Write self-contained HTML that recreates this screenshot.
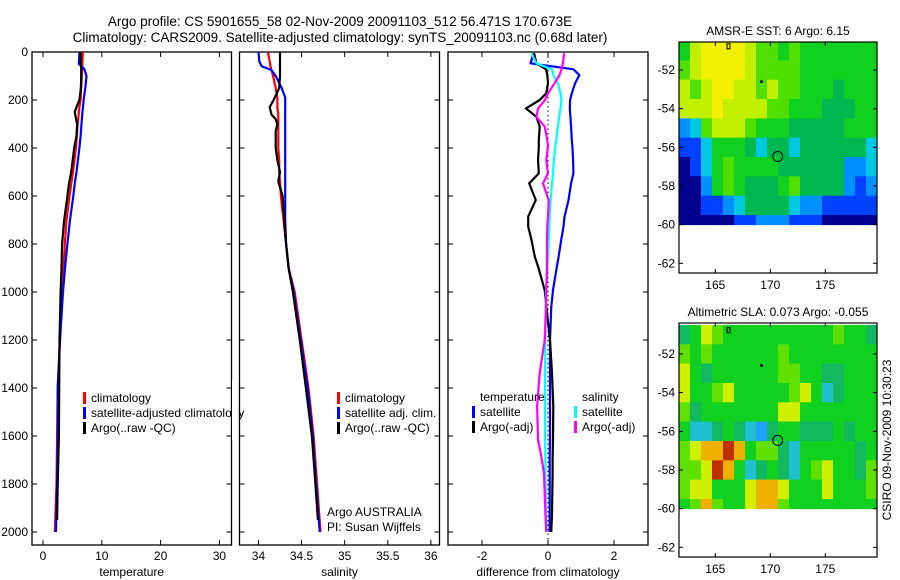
<!DOCTYPE html>
<html><head><meta charset="utf-8">
<style>
html,body{margin:0;padding:0;background:#fff;}
svg{display:block;font-family:"Liberation Sans",sans-serif;}
text{fill:#000;}
</style></head>
<body>
<svg id="fig" width="900" height="580" viewBox="0 0 900 580" xmlns="http://www.w3.org/2000/svg">
<rect width="900" height="580" fill="#fff"/>
<text x="340" y="26" font-size="13.5" text-anchor="middle">Argo profile: CS 5901655_58 02-Nov-2009 20091103_512 56.471S 170.673E</text>
<text x="340" y="42" font-size="13.5" text-anchor="middle">Climatology: CARS2009. Satellite-adjusted climatology: synTS_20091103.nc (0.68d later)</text>
<g id="plots"></g>
<text transform="translate(891,440) rotate(-90)" font-size="12" text-anchor="middle">CSIRO 09-Nov-2009 10:30:23</text>
</svg>
<script>
// ---------- data ----------
const tDepth = [0,50,70,100,150,200,230,250,300,350,400,500,550,600,700,800,900,1000,1200,1400,1600,1800,2000];
const tClim  = [6.77,6.7,6.65,6.6,6.5,6.4,6.2,6.1,5.9,5.75,5.6,5.1,4.8,4.5,4.0,3.7,3.5,3.2,2.9,2.5,2.4,2.3,2.0];
const tSat   = [6.2,6.1,7.0,7.4,7.2,6.9,6.8,6.7,6.55,6.4,6.2,5.7,5.4,5.15,4.6,4.15,3.75,3.4,2.9,2.5,2.5,2.4,2.2];
const tArgo  = [6.4,6.45,6.5,6.5,6.45,6.2,5.7,5.4,5.8,5.7,5.3,4.8,4.4,4.15,3.6,3.25,3.15,3.0,2.8,2.75,2.7,2.5,2.4];
const sDepth = [0,40,60,75,100,150,190,230,260,280,300,330,400,450,500,540,600,700,800,900,1000,1200,1400,1600,1800,2000];
const sClim  = [34.11,34.13,34.14,34.15,34.17,34.2,34.22,34.22,34.23,34.23,34.23,34.23,34.23,34.24,34.24,34.25,34.26,34.29,34.32,34.35,34.42,34.5,34.58,34.64,34.68,34.72];
const sSat   = [34.0,34.01,34.04,34.15,34.2,34.27,34.31,34.31,34.31,34.31,34.31,34.31,34.31,34.31,34.31,34.31,34.31,34.31,34.32,34.35,34.41,34.49,34.57,34.63,34.67,34.71];
const sArgo  = [34.25,34.25,34.25,34.25,34.25,34.24,34.19,34.13,34.15,34.2,34.22,34.2,34.2,34.22,34.25,34.23,34.28,34.3,34.32,34.35,34.4,34.48,34.55,34.62,34.66,34.69];
const dDepth = [5,47,72,96,130,172,200,235,270,311,367,394,450,506,547,617,686,728,783,853,894,992,1061,1200,1339,1478,1617,1686,1756,1922,2000];
const dTsat  = [-0.44,-0.53,0.77,0.95,0.82,0.72,0.67,0.66,0.68,0.7,0.72,0.74,0.76,0.77,0.7,0.62,0.5,0.47,0.4,0.32,0.27,0.15,0.1,0.06,0.06,0.06,0.06,0.05,0.05,0.05,0.05];
const dTargo = [-0.42,-0.35,-0.06,-0.02,0.0,-0.05,-0.25,-0.67,-0.35,-0.25,-0.28,-0.28,-0.3,-0.28,-0.57,-0.37,-0.6,-0.6,-0.5,-0.4,-0.3,-0.1,-0.05,0.06,0.12,0.16,0.15,0.14,0.14,0.12,0.1];
const dSsat  = [-0.5,-0.35,0.12,0.16,0.3,0.38,0.41,0.38,0.34,0.3,0.25,0.22,0.18,0.15,0.12,0.08,0.05,0.04,0.02,0.0,-0.02,-0.06,-0.07,-0.08,-0.09,-0.09,-0.09,-0.08,-0.08,-0.06,-0.04];
const dSargo = [0.49,0.45,0.41,0.35,0.2,0.0,-0.09,-0.3,-0.35,-0.1,-0.02,0.0,-0.05,0.0,-0.15,0.02,0.0,-0.02,-0.03,-0.03,-0.03,-0.05,-0.06,-0.1,-0.25,-0.33,-0.3,-0.2,-0.12,-0.08,-0.05];
const tTicks = [0,10,20,30];
const sTicks = [34,34.5,35,35.5,36];
const dTicks = [-2,0,2];
const yTicks = [0,200,400,600,800,1000,1200,1400,1600,1800,2000];
const latTicks = [-52,-54,-56,-58,-60,-62];
const lonTicks = [165,170,175];
// map grids: rows lat -50.5..-60 (1 deg), cols lon 161.7..179.7 (1 deg); colour index 0..9
const sstGrid = [
[5,7,8,8,8,8,7,6,6,5,6,5,5,5,5,5,5,5],
[6,7,8,8,8,8,7,6,6,6,6,5,5,5,5,5,5,5],
[7,6,7,8,8,7,7,6,7,6,6,5,5,5,4,5,5,5],
[7,7,7,8,7,7,7,7,6,6,5,5,5,4,4,4,5,5],
[2,3,6,7,7,7,6,5,5,5,4,4,4,4,4,5,5,5],
[1,1,3,5,5,5,4,3,4,4,3,4,4,4,4,4,4,3],
[0,1,3,5,6,5,5,5,5,4,4,4,4,4,4,2,2,3],
[0,0,2,5,6,5,4,4,4,5,6,4,4,4,4,2,1,2],
[0,0,1,1,2,3,4,4,4,4,3,2,2,1,1,1,1,1],
[0,0,0,0,0,1,1,2,2,2,1,1,1,0,0,0,0,0]];
const slaGrid = [
[4,5,7,6,5,5,5,5,5,5,5,5,5,5,6,5,5,4],
[6,5,6,5,5,5,5,5,5,6,5,5,5,5,5,5,5,5],
[7,5,4,5,5,5,5,5,5,6,6,5,5,4,4,5,5,5],
[7,5,5,6,7,5,5,5,5,5,6,7,5,3,4,5,5,5],
[6,4,5,5,5,5,5,5,5,7,7,5,5,5,5,5,5,5],
[5,3,3,4,5,4,3,2,4,5,5,4,4,4,5,4,5,5],
[6,7,8,8,9,8,5,6,6,4,3,5,5,5,5,5,4,5],
[6,6,7,9,8,5,3,4,5,4,3,5,6,7,5,5,4,6],
[6,7,7,5,5,5,7,8,8,7,5,5,5,7,5,5,5,6],
[5,6,8,6,5,5,7,8,8,6,5,5,5,5,5,5,5,5]];
const palette = ['#00008f','#0040ff','#0090ff','#00c8e0','#00c070','#10d020','#50e000','#c0f000','#f0e000','#e09000'];
const sstPalette = ['#00008f','#0040ff','#0090ff','#00c8e0','#00b850','#10d020','#50e000','#c0f000','#f0f000','#f0d000'];
const slaPalette = ['#00008f','#0040ff','#20a0ff','#20c0d0','#10b860','#10d020','#60e000','#d0f000','#f0b000','#c03000'];

// ---------- drawing ----------
const NS='http://www.w3.org/2000/svg';
const root=document.getElementById('plots');
function mk(tag,attrs,parent){const e=document.createElementNS(NS,tag);for(const k in attrs)e.setAttribute(k,attrs[k]);(parent||root).appendChild(e);return e;}
const Y0=52, YB=545, KY=0.24;
function yD(d){return Y0+d*KY;}

function panel(name,x0,x1,xmin,xmax,ticks,xlabel,showY){
  const sx=v=>x0+(v-xmin)/(xmax-xmin)*(x1-x0);
  const g=mk('g',{});
  
  
  const fr=mk('rect',{x:x0,y:Y0,width:x1-x0,height:YB-Y0,fill:'none',stroke:'#000','stroke-width':1.3},g);
  
  
  ticks.forEach(t=>{
    const x=sx(t);
    mk('line',{x1:x,x2:x,y1:YB,y2:YB-5,stroke:'#000'},g);
    mk('line',{x1:x,x2:x,y1:Y0,y2:Y0+5,stroke:'#000'},g);
    const tx=mk('text',{x:x,y:YB+15,'font-size':12,'text-anchor':'middle'},g);
    tx.textContent=String(t);
    
    
  });
  yTicks.forEach(t=>{
    const y=yD(t);
    mk('line',{x1:x0,x2:x0+5,y1:y,y2:y,stroke:'#000'},g);
    mk('line',{x1:x1,x2:x1-5,y1:y,y2:y,stroke:'#000'},g);
    if(showY){
      const tx=mk('text',{x:x0-4,y:y+4,'font-size':12,'text-anchor':'end'},g);
      tx.textContent=String(t);
      
      
    }
  });
  const xl=mk('text',{x:(x0+x1)/2,y:YB+31,'font-size':12,'text-anchor':'middle'},g);
  xl.textContent=xlabel;
  
  
  return {sx,g};
}
function line(p,depths,vals,color,name){
  let d='';
  vals.forEach((v,i)=>{d+=(i?'L':'M')+p.sx(v).toFixed(1)+','+yD(depths[i]).toFixed(1);});
  const el=mk('path',{d:d,fill:'none',stroke:color,'stroke-width':2.2,'stroke-linejoin':'round'},p.g);
  
  
}
function legend(p,x,y,items){
  items.forEach((it,i)=>{
    const yy=y+i*15;
    if(it[0]) mk('rect',{x:x,y:yy-10,width:3,height:12,fill:it[0]},p.g);
    const t=mk('text',{x:x+8,y:yy,'font-size':12},p.g);
    t.textContent=it[1];
    
    
  });
}

const p1=panel('temperature-panel',32,231.5,-1.87,32.06,tTicks,'temperature',true);
line(p1,tDepth,tClim,'#ff0000','temp-climatology-line');
line(p1,tDepth,tSat,'#0000ff','temp-satellite-line');
line(p1,tDepth.slice(0,-1).concat([1950]),tArgo,'#000000','temp-argo-line');
legend(p1,83,402,[['#ff0000','climatology'],['#0000ff','satellite-adjusted climatology'],['#000','Argo(..raw -QC)']]);
mk('rect',{x:232,y:380,width:6,height:60,fill:'#fff'});

const p2=panel('salinity-panel',239.5,439.5,33.78,36.1,sTicks,'salinity',false);
line(p2,sDepth,sClim,'#ff0000','sal-climatology-line');
line(p2,sDepth,sSat,'#0000ff','sal-satellite-line');
line(p2,sDepth.slice(0,-1).concat([1950]),sArgo,'#000000','sal-argo-line');
legend(p2,337,402,[['#ff0000','climatology'],['#0000ff','satellite adj. clim.'],['#000','Argo(..raw -QC)']]);
{const a=mk('text',{x:327,y:516,'font-size':12},p2.g);a.textContent='Argo AUSTRALIA';


const b=mk('text',{x:327,y:531,'font-size':12},p2.g);b.textContent='PI: Susan Wijffels';

}

const p3=panel('difference-panel',448,648,-3.03,3.03,dTicks,'difference from climatology',false);
{const z=p3.sx(0);const zl=mk('line',{x1:z,x2:z,y1:Y0,y2:YB,stroke:'#000','stroke-dasharray':'1.5,3'},p3.g);

}
line(p3,dDepth,dTsat,'#0000ff','diff-temp-satellite-line');
line(p3,dDepth,dTargo,'#000000','diff-temp-argo-line');
line(p3,dDepth,dSsat,'#00ffff','diff-sal-satellite-line');
line(p3,dDepth,dSargo,'#ff00ff','diff-sal-argo-line');
legend(p3,472,401,[[null,'temperature'],['#0000ff','satellite'],['#000','Argo(-adj)']]);
legend(p3,574,401,[[null,'salinity'],['#00ffff','satellite'],['#ff00ff','Argo(-adj)']]);

function map(name,top,bot,latTop,latBot,grid,pal,title){
  const L=679,R=877,lon0=161.7,lon1=179.7;
  const sx=v=>L+(v-lon0)/(lon1-lon0)*(R-L);
  const sy=v=>top+(latTop-v)/(latTop-latBot)*(bot-top);
  const g=mk('g',{});
  
  
  grid.forEach((row,r)=>{
    const la0=-50.5-r, la1=Math.max(-51.5-r,-60);
    row.forEach((v,c)=>{
      const x=sx(lon0+c), x2=sx(lon0+c+1);
      const ya=Math.max(sy(la0),top), yb=sy(la1);
      const cell=mk('rect',{x:x.toFixed(1),y:ya.toFixed(1),width:(x2-x+0.4).toFixed(1),height:(yb-ya+0.4).toFixed(1),fill:pal[v]},g);
      
      
    });
  });
  const fr=mk('rect',{x:L,y:top,width:R-L,height:bot-top,fill:'none',stroke:'#000','stroke-width':1.2},g);
  
  
  latTicks.forEach(t=>{const y=sy(t);
    mk('line',{x1:L,x2:L+4,y1:y,y2:y,stroke:'#000'},g);
    mk('line',{x1:R,x2:R-4,y1:y,y2:y,stroke:'#000'},g);
    const tx=mk('text',{x:L-4,y:y+4,'font-size':12,'text-anchor':'end'},g);tx.textContent=String(t);
    
    });
  lonTicks.forEach(t=>{const x=sx(t);
    mk('line',{x1:x,x2:x,y1:bot,y2:bot-4,stroke:'#000'},g);
    mk('line',{x1:x,x2:x,y1:top,y2:top+4,stroke:'#000'},g);
    const tx=mk('text',{x:x,y:bot+16,'font-size':12,'text-anchor':'middle'},g);tx.textContent=String(t);
    
    });
  const ti=mk('text',{x:(L+R)/2,y:top-7,'font-size':12,'text-anchor':'middle'},g);ti.textContent=title;
  
  
  const c=mk('circle',{cx:sx(170.673),cy:sy(-56.471),r:5,fill:'none',stroke:'#000'},g);
  
  
  mk('circle',{cx:sx(169.2),cy:sy(-52.6),r:1.5,fill:'#000'},g);
  mk('rect',{x:sx(166.2)-1.5,y:sy(-50.8)-3,width:3,height:5,fill:'none',stroke:'#000','stroke-width':1},g);
}
map('sst-map',42,273,-50.55,-62.5,sstGrid,sstPalette,'AMSR-E SST: 6  Argo: 6.15');
map('sla-map',323,557,-50.4,-62.5,slaGrid,slaPalette,'Altimetric SLA: 0.073  Argo: -0.055');
</script>
</body></html>
